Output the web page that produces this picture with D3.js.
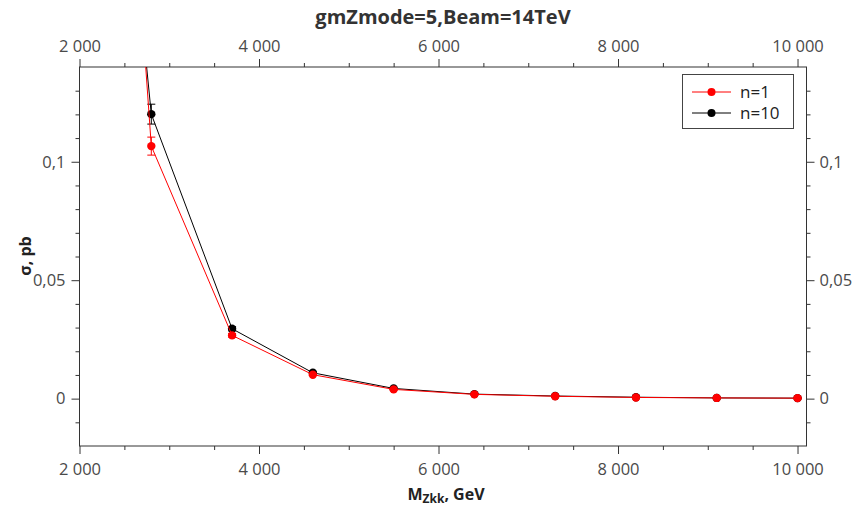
<!DOCTYPE html>
<html>
<head>
<meta charset="utf-8">
<script src="https://cdn.jsdelivr.net/npm/d3@7"></script>
<style>
  body { margin: 0; background: #fff; }
  svg { font-family: "Open Sans", "Noto Sans", sans-serif; }
  .axis path, .axis line { stroke: #333; }
  .axis text { fill: #4a4a4a; font-size: 16.5px; font-family: "Open Sans", sans-serif; }
</style>
</head>
<body>
<script>
// data
var massPoints = [1900, 2800, 3700, 4600, 5500, 6400, 7300, 8200, 9100, 10000];
var sigmaN1 = [0.59, 0.1066, 0.0267, 0.0101, 0.0039, 0.0018, 0.0010, 0.0005, 0.0003, 0.0002];
var errN1 = [0.01, 0.0038, 0.0008, 0.0003, 0.0002, 0.0001, 0.0001, 0.0001, 0.0001, 0.0001];
var sigmaN10 = [0.465, 0.1201, 0.0295, 0.0109, 0.0043, 0.0019, 0.0011, 0.0006, 0.0003, 0.0002];
var errN10 = [0.01, 0.0042, 0.0009, 0.0003, 0.0002, 0.0001, 0.0001, 0.0001, 0.0001, 0.0001];
var seriesNames = ["n=1", "n=10"];
var seriesColors = ["#ff0000", "#000000"];
var xTicks = [2000, 4000, 6000, 8000, 10000];
var yTicks = [0, 0.05, 0.1];

(function(){
    var width = 855, height = 508;
    var left = 79.5, right = 806.5, top = 67, bottom = 446;

    var svg = d3.select("body").append("svg")
        .attr("width", width)
        .attr("height", height);

    var x = d3.scaleLinear().domain([2000, 10100]).range([left, right]);
    var y = d3.scaleLinear().domain([-0.02, 0.14]).range([bottom, top]);

    var loc = d3.formatLocale({decimal: ",", thousands: " ", grouping: [3], currency: ["", ""]});
    var fx = loc.format(",d");
    var fy = function(d){ return loc.format("~g")(d); };

    var xMinor = d3.range(2500, 10001, 500).filter(function(d){ return d % 2000 != 0; });
    var yMinor = d3.range(-1, 14).map(function(d){ return d / 100; }).filter(function(d){ return yTicks.indexOf(d) < 0; });

    function addAxis(gen, tr, ticks, minor, fmt, pad){
        svg.append("g").attr("class", "axis").attr("transform", tr)
            .call(gen.tickValues(minor).tickSize(4).tickFormat(""))
            .select(".domain").remove();
        var g = svg.append("g").attr("class", "axis").attr("transform", tr)
            .call(gen.tickValues(ticks).tickSize(8).tickSizeOuter(0).tickPadding(pad).tickFormat(fmt));
        g.select(".domain").remove();
        return g;
    }

    addAxis(d3.axisBottom(x), "translate(0," + bottom + ")", xTicks, xMinor, fx, 9);
    addAxis(d3.axisTop(x), "translate(0," + top + ")", xTicks, xMinor, fx, 7);
    addAxis(d3.axisLeft(y), "translate(" + left + ",0)", yTicks, yMinor, fy, 6);
    addAxis(d3.axisRight(y), "translate(" + right + ",0)", yTicks, yMinor, fy, 5);

    // plot frame
    svg.append("rect")
        .attr("x", left).attr("y", top)
        .attr("width", right - left).attr("height", bottom - top)
        .attr("fill", "none").attr("stroke", "#333").attr("stroke-width", 1);

    svg.append("clipPath").attr("id", "plotclip")
        .append("rect")
        .attr("x", left).attr("y", top)
        .attr("width", right - left).attr("height", bottom - top);

    var plot = svg.append("g").attr("clip-path", "url(#plotclip)");

    var line = d3.line()
        .x(function(d){ return x(d[0]); })
        .y(function(d){ return y(d[1]); });

    var series = [
        {key: "n10", color: seriesColors[1], vals: sigmaN10, errs: errN10},
        {key: "n1", color: seriesColors[0], vals: sigmaN1, errs: errN1}
    ];

    series.forEach(function(s){
        var pts = massPoints.map(function(m, i){ return [m, s.vals[i], s.errs[i]]; });
        var g = plot.append("g").attr("class", "series-" + s.key);
        g.append("path")
            .datum(pts)
            .attr("fill", "none")
            .attr("stroke", s.color)
            .attr("stroke-width", 1)
            .attr("d", line);

        var eb = g.selectAll(".eb")
            .data(pts)
            .enter().append("g").attr("class", "eb");
        eb.append("line")
            .attr("x1", function(d){ return x(d[0]); })
            .attr("x2", function(d){ return x(d[0]); })
            .attr("y1", function(d){ return y(d[1] - d[2]); })
            .attr("y2", function(d){ return y(d[1] + d[2]); })
            .attr("stroke", s.color);
        [-1, 1].forEach(function(k){
            eb.append("line")
                .attr("x1", function(d){ return x(d[0]) - 4; })
                .attr("x2", function(d){ return x(d[0]) + 4; })
                .attr("y1", function(d){ return y(d[1] + k * d[2]); })
                .attr("y2", function(d){ return y(d[1] + k * d[2]); })
                .attr("stroke", s.color);
        });

        g.selectAll(".pt")
            .data(pts)
            .enter().append("circle")
            .attr("class", "pt")
            .attr("cx", function(d){ return x(d[0]); })
            .attr("cy", function(d){ return y(d[1]); })
            .attr("r", 4.2)
            .attr("fill", s.color);
    });

    // legend
    var legend = svg.append("g");
    legend.append("rect")
        .attr("x", 682.5).attr("y", 74.5)
        .attr("width", 111).attr("height", 54)
        .attr("fill", "#fff").attr("stroke", "#444");
    seriesNames.forEach(function(n, i){
        var ly = 92 + i * 21;
        legend.append("line")
            .attr("x1", 692).attr("x2", 731)
            .attr("y1", ly).attr("y2", ly)
            .attr("stroke", seriesColors[i]);
        legend.append("circle")
            .attr("cx", 711.5).attr("cy", ly).attr("r", 4)
            .attr("fill", seriesColors[i]);
        legend.append("text")
            .attr("x", 740).attr("y", ly + 6)
            .attr("font-size", 17)
            .attr("fill", "#222")
            .text(n);
    });

    // title
    svg.append("text")
        .attr("x", 443).attr("y", 24)
        .attr("text-anchor", "middle")
        .attr("font-size", 20)
        .attr("font-weight", "bold")
        .attr("fill", "#333")
        .text("gmZmode=5,Beam=14TeV");

    // x axis label
    var xl = svg.append("text")
        .attr("x", 446).attr("y", 500)
        .attr("text-anchor", "middle")
        .attr("font-size", 16)
        .attr("font-weight", "bold")
        .attr("fill", "#222");
    xl.append("tspan").text("M");
    xl.append("tspan").attr("font-size", 12).attr("dy", 3).text("Zkk");
    xl.append("tspan").attr("dy", -3).text(", GeV");

    // y axis label
    svg.append("text")
        .attr("transform", "translate(31,256) rotate(-90)")
        .attr("text-anchor", "middle")
        .attr("font-size", 16)
        .attr("font-weight", "bold")
        .attr("fill", "#222")
        .text("σ, pb");
})();
</script>
</body>
</html>
